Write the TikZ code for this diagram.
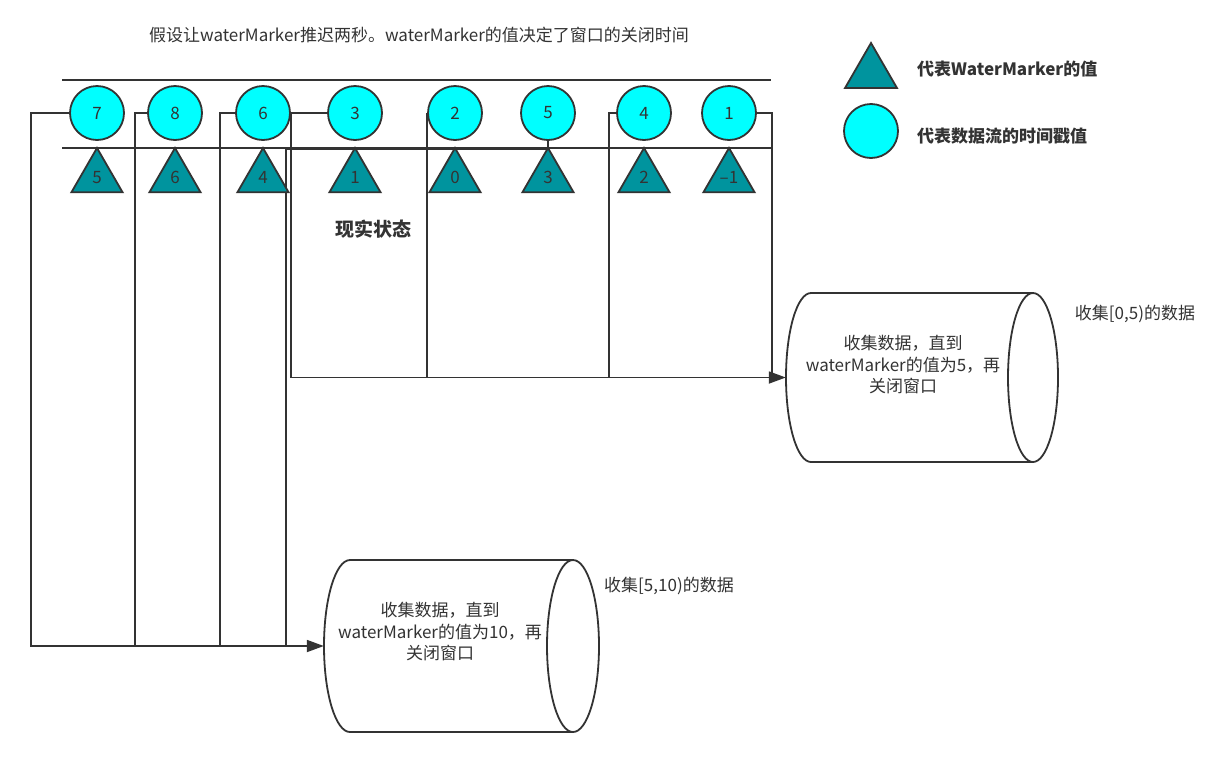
\documentclass[tikz,border=0pt]{standalone}
\usepackage{fontspec}
\setmainfont{Noto Sans CJK SC}
\usetikzlibrary{shapes.geometric,arrows.meta}
\definecolor{lc}{RGB}{51,51,51}
\definecolor{cy}{RGB}{0,255,255}
\definecolor{tl}{RGB}{0,148,158}
\begin{document}
\begin{tikzpicture}[x=1pt,y=-1pt,
  fs/.style={font=\fontsize{17}{21.5}\selectfont},
  ts/.style={circle, draw=lc, line width=1.8pt, fill=cy, minimum size=54pt, inner sep=0pt, fs, text=lc},
  wm/.style={regular polygon, regular polygon sides=3, draw=lc, line width=1.8pt, fill=tl, minimum size=59pt, inner sep=0pt, fs, text=lc},
  conn/.style={draw=lc, line width=1.8pt},
  arr/.style={conn, -{Triangle[length=17pt,width=12pt]}},
  cylbox/.style={draw=none, inner sep=0pt},
  cylline/.style={draw=lc, line width=1.8pt, fill=white},
  ctext/.style={fs, text=lc, align=center, inner sep=0pt},
  lbl/.style={fs, text=lc, inner sep=0pt},
  bl/.style={font=\fontsize{17}{21}\selectfont\bfseries, text=lc, inner sep=0pt}
]
\useasboundingbox (0,0) rectangle (1220,761);
\fill[white] (0,0) rectangle (1220,761);

% title
\node[lbl] (title) at (419,35) {假设让waterMarker推迟两秒。waterMarker的值决定了窗口的关闭时间};

% rails
\coordinate (t1) at (62,80); \coordinate (t2) at (771,80);
\coordinate (m1) at (62,148); \coordinate (m2) at (772,148);
\draw[conn] (t1) -- (t2);
\draw[conn] (m1) -- (m2);

% cylinders (lying on their side)
\node[cylbox, minimum width=272pt, minimum height=169pt] (cyl1) at (922,377.5) {};
\path[cylline] (1033,293) -- (811,293)
  arc[start angle=-90, end angle=-270, x radius=25, y radius=84.5] -- (1033,462);
\path[cylline] (1033,377.5) ellipse[x radius=25, y radius=84.5];
\node[cylbox, minimum width=275pt, minimum height=172pt] (cyl2) at (461.5,646) {};
\path[cylline] (573,560) -- (350,560)
  arc[start angle=-90, end angle=-270, x radius=26, y radius=86] -- (573,732);
\path[cylline] (573,646) ellipse[x radius=26, y radius=86];

\node[ctext] (tx1) at (903,365) {收集数据，直到\\waterMarker的值为5，再\\关闭窗口};
\node[ctext] (tx2) at (440,632) {收集数据，直到\\waterMarker的值为10，再\\关闭窗口};
\node[lbl] (l1) at (1135,314) {收集[0,5)的数据};
\node[lbl] (l2) at (669,586) {收集[5,10)的数据};

% circles (event timestamps)
\node[ts] (c7) at (97,113) {7};
\node[ts] (c8) at (175,113) {8};
\node[ts] (c6) at (263,113) {6};
\node[ts] (c3) at (355,113) {3};
\node[ts] (c2) at (455,113) {2};
\node[ts] (c5) at (548,113) {5};
\node[ts] (c4) at (644,113) {4};
\node[ts] (c1) at (729,113) {1};

% window [0,5)
\draw[arr] (c3.west) -- (c6.east) |- (cyl1.west);
\draw[conn] (c2.west) -- (c2.west |- cyl1.west);
\draw[conn] (c4.west) -- ++(-7,0) -- ++(0,264.5);
\draw[conn] (c1.east) -- ++(15,0) -- ++(0,264.5);

% window [5,10)
\draw[arr] (c7.west) -- ++(-38,0) |- (cyl2.west);
\draw[conn] (c8.west) -- ++(-12,0) -- ++(0,533);
\draw[conn] (c6.west) -- ++(-15,0) -- ++(0,533);
\draw[conn] (c5.south) -- (548,149.5) -| (286,646);

% triangles (watermarks)
\node[wm] (w5) at (97,177.5) {5};
\node[wm] (w6) at (175,177.5) {6};
\node[wm] (w4) at (263,177.5) {4};
\node[wm] (w1) at (355,177.5) {1};
\node[wm] (w0) at (455,177.5) {0};
\node[wm] (w3) at (548,177.5) {3};
\node[wm] (w2) at (644,177.5) {2};
\node[wm] (wm1) at (729,177.5) {–1};

\node[bl, font=\fontsize{19}{22}\selectfont\bfseries] (state) at (373,229) {现实状态};

% legend
\node[wm, minimum size=60pt] (lt) at (871,73) {};
\node[bl, anchor=west] (ltl) at (917,69) {代表WaterMarker的值};
\node[ts] (lc) at (871,131) {};
\node[bl, anchor=west] (lcl) at (917,136) {代表数据流的时间戳值};
\end{tikzpicture}
\end{document}
